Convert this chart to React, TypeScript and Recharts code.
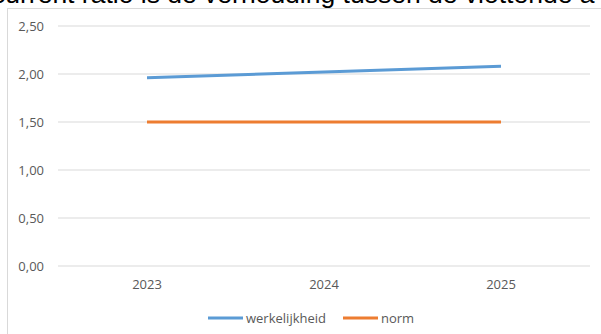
import React from "react";
import { LineChart, Line, XAxis, YAxis, CartesianGrid, Legend } from "recharts";

const years = ["2023", "2024", "2025"];
const werkelijkheid = [1.96, 2.02, 2.08];
const norm = [1.5, 1.5, 1.5];
const yTicks = [0, 0.5, 1, 1.5, 2, 2.5];
const titleText = "current ratio is de verhouding tussen de vlottende a";
const seriesNames = ["werkelijkheid", "norm"];

const data = years.map((y, i) => ({ year: y, werkelijkheid: werkelijkheid[i], norm: norm[i] }));

const FONT = "'Open Sans', sans-serif";

const LegendContent = (props: any) => {
  const payload = [...(props.payload || [])].sort(
    (a: any, b: any) => seriesNames.indexOf(a.value) - seriesNames.indexOf(b.value)
  );
  return (
    <div style={{ display: "flex", alignItems: "center", fontFamily: FONT, fontSize: 13, color: "#595959" }}>
      {payload.map((p: any, i: number) => (
        <div key={i} style={{ display: "flex", alignItems: "center", marginRight: i === 0 ? 17 : 0 }}>
          <svg width={35} height={6} style={{ marginRight: 3 }}>
            <line x1={0} y1={3} x2={35} y2={3} stroke={p.color} strokeWidth={3} />
          </svg>
          <span>{p.value}</span>
        </div>
      ))}
    </div>
  );
};

export default function App() {
  return (
    <div style={{ position: "fixed", left: 0, top: 0, width: 601, height: 334, overflow: "hidden", background: "#fff" }}>
      <div
        style={{
          position: "absolute",
          left: -8,
          top: -19,
          whiteSpace: "nowrap",
          fontFamily: "'Liberation Sans', Arial, sans-serif",
          fontSize: 26.5,
          lineHeight: "26px",
          color: "#000",
        }}
      >
        {titleText}
      </div>
      <div
        style={{
          position: "absolute",
          left: 7,
          top: 8,
          width: 700,
          height: 400,
          border: "1px solid #d9d9d9",
          boxSizing: "border-box",
        }}
      />
      <div style={{ position: "absolute", left: 0, top: 0 }}>
        <LineChart width={601} height={334} data={data} margin={{ top: 26, right: 11, bottom: 38, left: 0 }}>
          <CartesianGrid vertical={false} stroke="#d9d9d9" />
          <XAxis
            dataKey="year"
            axisLine={false}
            tickLine={false}
            tickMargin={8}
            padding={{ left: 89, right: 89 }}
            tick={{ fill: "#595959", fontSize: 13, fontFamily: FONT }}
            height={30}
          />
          <YAxis
            domain={[0, 2.5]}
            ticks={yTicks}
            axisLine={false}
            tickLine={false}
            tickMargin={8}
            width={58}
            tickFormatter={(v: number) => v.toFixed(2).replace(".", ",")}
            tick={{ fill: "#595959", fontSize: 13, fontFamily: FONT }}
          />
          <Legend
            layout="horizontal"
            verticalAlign="middle"
            align="center"
            content={<LegendContent />}
            wrapperStyle={{ position: "absolute", left: 208, top: 309, width: "auto" }}
          />
          <Line
            dataKey="werkelijkheid"
            name={seriesNames[0]}
            stroke="#5b9bd5"
            strokeWidth={3}
            dot={false}
            activeDot={false}
            isAnimationActive={false}
          />
          <Line
            dataKey="norm"
            name={seriesNames[1]}
            stroke="#ed7d31"
            strokeWidth={3}
            dot={false}
            activeDot={false}
            isAnimationActive={false}
          />
        </LineChart>
      </div>
    </div>
  );
}
